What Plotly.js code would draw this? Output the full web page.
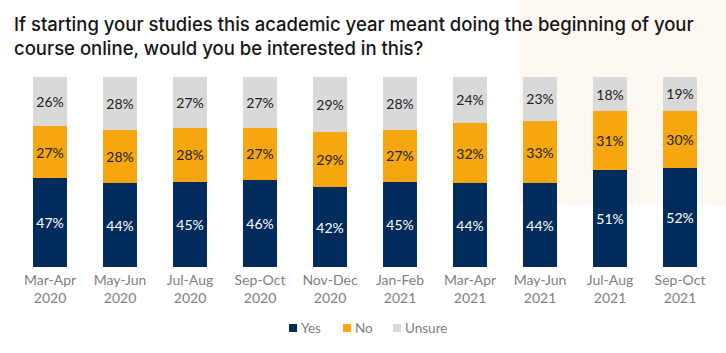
<!DOCTYPE html>
<html>
<head>
<meta charset="utf-8">
<script src="https://cdn.plot.ly/plotly-3.0.1.min.js"></script>
<style>html,body{margin:0;padding:0;background:#fff;}#chart{width:726px;height:353px;}</style>
</head>
<body>
<div id="chart"></div>
<script>
const categories = ["Mar-Apr<br>2020","May-Jun<br>2020","Jul-Aug<br>2020","Sep-Oct<br>2020","Nov-Dec<br>2020","Jan-Feb<br>2021","Mar-Apr<br>2021","May-Jun<br>2021","Jul-Aug<br>2021","Sep-Oct<br>2021"];
const yes = [47,44,45,46,42,45,44,44,51,52];
const no = [27,28,28,27,29,27,32,33,31,30];
const unsure = [26,28,27,27,29,28,24,23,18,19];
const seriesNames = ['Yes','No','Unsure'];
const seriesColors = ['#012b5b','#f6a60f','#d9d9d9'];

const labelFont = "Lato, 'Noto Sans', sans-serif";
function tr(name, vals, color, txtColor){
  return {
    type:'bar', name:name, x:categories, y:vals,
    marker:{color:color},
    text: vals.map(v=>v+'%'), textposition:'inside', insidetextanchor:'middle',
    textangle:0, constraintext:'none',
    textfont:{family:labelFont, size:14, color:txtColor},
    hoverinfo:'none', showlegend:false
  };
}
const data = [
  tr(seriesNames[0], yes, seriesColors[0], '#ffffff'),
  tr(seriesNames[1], no, seriesColors[1], '#222222'),
  tr(seriesNames[2], unsure, seriesColors[2], '#222222')
];

// manual compact legend (pixel positions converted to paper coords)
const px = x => (x-15)/700, py = y => (267-y)/190;
const legSquareX = [289, 343, 393];
const shapes = [{type:'rect', xref:'paper', yref:'paper', x0:px(520), x1:px(726), y0:py(205), y1:py(0),
    fillcolor:'#fdf8f2', line:{width:0}, layer:'below'}];
const annotations = [];
seriesNames.forEach((n,i)=>{
  shapes.push({type:'rect', xref:'paper', yref:'paper', x0:px(legSquareX[i]), x1:px(legSquareX[i]+8),
    y0:py(332), y1:py(324), fillcolor:seriesColors[i], line:{width:0}});
  annotations.push({text:n, xref:'paper', yref:'paper', x:px(legSquareX[i]+10), y:py(327.5),
    xanchor:'left', yanchor:'middle', showarrow:false,
    font:{family:labelFont, size:13.5, color:'#808080'}});
});

const layout = {
  width:726, height:353,
  margin:{l:15, r:11, t:77, b:86},
  paper_bgcolor:'#ffffff', plot_bgcolor:'rgba(0,0,0,0)',
  barmode:'stack', bargap:0.514,
  title:{text:'If starting your studies this academic year meant doing the beginning of your<br>course online, would you be interested in this?',
    x:14/726, xanchor:'left', xref:'container', y:0.912, yanchor:'top', yref:'container',
    font:{family:"Inter, 'Noto Sans', sans-serif", size:18.5, weight:500, color:'#161616'}},
  xaxis:{type:'category', range:[-0.5,9.5], showgrid:false, zeroline:false, showline:false, ticks:'',
    ticklabelstandoff:3,
    tickfont:{family:labelFont, size:14, color:'#808080'}, fixedrange:true},
  yaxis:{range:[0,100], visible:false, fixedrange:true},
  showlegend:false,
  shapes:shapes,
  annotations:annotations
};
Plotly.newPlot('chart', data, layout, {displayModeBar:false, staticPlot:true});
</script>
</body>
</html>
